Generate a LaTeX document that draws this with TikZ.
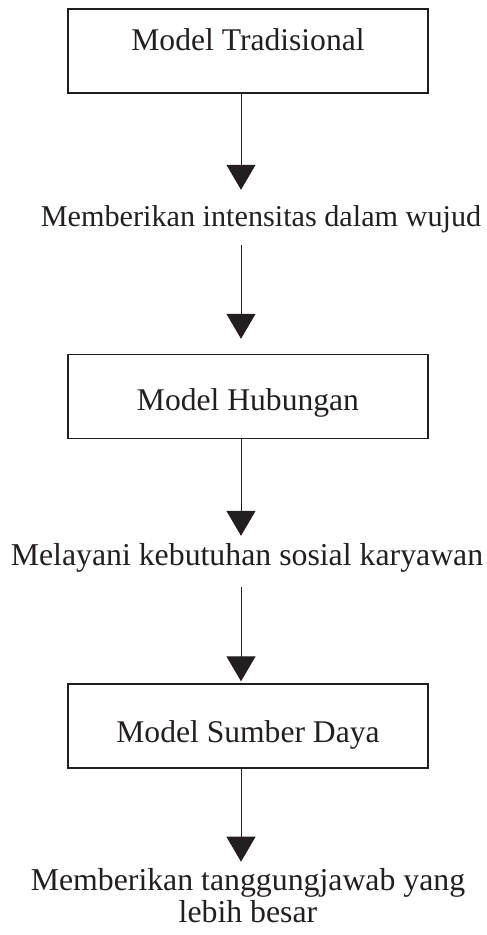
\documentclass[tikz,border=0pt]{standalone}
\usepackage{fontspec}
\setmainfont{Liberation Serif}
\usetikzlibrary{arrows.meta}

\definecolor{tinta}{HTML}{231F20}

\tikzset{
	modelbox/.style={draw=tinta, line width=1.4pt, minimum width=360pt, minimum height=84pt,
		inner sep=0pt, text=tinta, font=\fontsize{31.6}{33}\selectfont},
	ket/.style={anchor=base, inner sep=0pt, align=center, text=tinta,
		text height=21pt, text depth=7pt, font=\fontsize{31.8}{32}\selectfont},
	panah/.style={draw=tinta, line width=1pt, -{Triangle[width=29pt,length=25pt]}}
}

\begin{document}
\begin{tikzpicture}[x=1pt,y=-1pt]
	\useasboundingbox (0,0) rectangle (487,935);
	\coordinate (sumbu) at (241,0);

	% kotak model
	\node[modelbox, text height=21pt, text depth=23pt] (tradisional) at (248,51) {Model Tradisional};
	\node[modelbox, text height=48pt, text depth=21pt] (hubungan) at (248,396.5) {Model Hubungan};
	\node[modelbox, text height=50pt, text depth=18pt] (sumberdaya) at (248,726) {Model Sumber Daya};

	% keterangan
	\node[ket, font=\fontsize{30.2}{32}\selectfont] (intensitas) at (261,226) {Memberikan intensitas dalam wujud};
	\node[ket] (sosial) at (247,565) {Melayani kebutuhan sosial karyawan};
	\node[ket, text height=, text depth=] (tanggungjawab) at (248,922) {Memberikan tanggungjawab yang\\lebih besar};

	% panah
	\draw[panah, shorten >=15pt] (tradisional.south -| sumbu) -- (intensitas.north -| sumbu);
	\draw[panah, shorten <=12pt, shorten >=15pt] (intensitas.south -| sumbu) -- (hubungan.north -| sumbu);
	\draw[panah, shorten >=8pt] (hubungan.south -| sumbu) -- (sosial.north -| sumbu);
	\draw[panah, shorten <=15pt, shorten >=2pt] (sosial.south -| sumbu) -- (sumberdaya.north -| sumbu);
	\draw[panah, shorten >=6pt] (sumberdaya.south -| sumbu) -- (tanggungjawab.north -| sumbu);
\end{tikzpicture}
\end{document}
